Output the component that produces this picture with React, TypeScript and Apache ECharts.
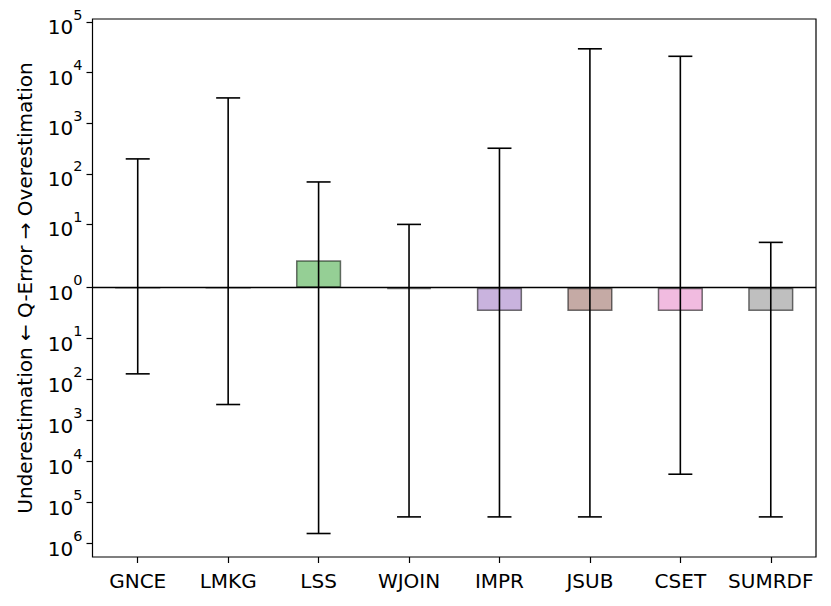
import React, { useEffect, useRef } from "react";
import * as echarts from "echarts";

// ---- data (q-error values) ----
const categories = ["GNCE", "LMKG", "LSS", "WJOIN", "IMPR", "JSUB", "CSET", "SUMRDF"];
// largest overestimation q-error (upper whisker)
const overestimationMax = [197, 3160, 69, 10, 320, 29500, 21000, 5.2];
// largest underestimation q-error (lower whisker)
const underestimationMax = [72, 403, 564000, 222000, 222000, 222000, 20200, 222000];
// median q-error, signed: + overestimation, - underestimation
const medianQError = [1, 1, 2.72, -1.07, -2.85, -2.85, -2.85, -2.85];
// tick exponents
const upperTickExponents = [0, 1, 2, 3, 4, 5];
const lowerTickExponents = [1, 2, 3, 4, 5, 6];
const barColors = [
  "rgba(31,119,180,0.5)",
  "rgba(255,127,14,0.5)",
  "rgba(44,160,44,0.5)",
  "rgba(214,39,40,0.5)",
  "rgba(148,103,189,0.5)",
  "rgba(140,86,75,0.5)",
  "rgba(227,119,194,0.5)",
  "rgba(127,127,127,0.5)",
];

// ---- axis transform (two-sided log scale around q = 1) ----
const UP_FIRST = 63.3;
const UP_DEC = 50.6;
const LO_FIRST = 51;
const LO_DEC = 41;
function posFromExp(d: number, under: boolean): number {
  if (under) {
    const t = d <= 1 ? d * LO_FIRST : LO_FIRST + (d - 1) * LO_DEC;
    return -t;
  }
  return d <= 1 ? d * UP_FIRST : UP_FIRST + (d - 1) * UP_DEC;
}
function pos(q: number, under: boolean): number {
  return posFromExp(Math.log10(q), under);
}

export default function App() {
  const ref = useRef<HTMLDivElement>(null);
  useEffect(() => {
    if (!ref.current) return;
    const chart = echarts.init(ref.current, undefined, { renderer: "svg" });

    const tickValues: number[] = [];
    const labelMap: Record<string, string> = {};
    upperTickExponents.forEach((e) => {
      const v = posFromExp(e, false);
      tickValues.push(v);
      labelMap[v.toFixed(2)] = "{b|10}{s|" + e + "}";
    });
    lowerTickExponents.forEach((e) => {
      const v = posFromExp(e, true);
      tickValues.push(v);
      labelMap[v.toFixed(2)] = "{b|10}{s|" + e + "}";
    });

    const barData = medianQError.map((m, i) => ({
      value: m >= 0 ? pos(m, false) : pos(-m, true),
      itemStyle: { color: barColors[i] },
    }));
    const errData = categories.map((_, i) => [
      i,
      pos(overestimationMax[i], false),
      pos(underestimationMax[i], true),
    ]);

    const font = "DejaVu Sans";
    chart.setOption({
      animation: false,
      grid: {
        left: 92.5,
        top: 19,
        width: 723.5,
        height: 538,
        show: true,
        borderColor: "#000",
        borderWidth: 1.2,
        backgroundColor: "transparent",
      },
      xAxis: {
        type: "category",
        data: categories,
        axisLine: { show: false, onZero: false },
        axisTick: {
          show: true,
          alignWithLabel: true,
          length: 6,
          lineStyle: { color: "#000", width: 1.2 },
        },
        axisLabel: {
          color: "#000",
          fontFamily: font,
          fontSize: 20,
          margin: 14,
          interval: 0,
        },
        splitLine: { show: false },
      },
      yAxis: {
        type: "value",
        min: -269.3,
        max: 268.7,
        axisLine: { show: false },
        splitLine: { show: false },
        axisTick: {
          show: true,
          length: 6,
          customValues: tickValues,
          lineStyle: { color: "#000", width: 1.2 },
        },
        axisLabel: {
          color: "#000",
          fontFamily: font,
          margin: 10,
          customValues: tickValues,
          formatter: (v: number) => labelMap[v.toFixed(2)] ?? "",
          rich: {
            b: {
              fontFamily: font,
              fontSize: 20,
              color: "#000",
              lineHeight: 30,
              verticalAlign: "bottom",
            },
            s: {
              fontFamily: font,
              fontSize: 14.5,
              color: "#000",
              lineHeight: 16,
              verticalAlign: "top",
            },
          },
        },
        name: "Underestimation \u2190 Q-Error \u2192 Overestimation",
        nameLocation: "middle",
        nameGap: 58,
        nameRotate: 90,
        nameTextStyle: { color: "#000", fontFamily: font, fontSize: 20 },
      },
      series: [
        {
          type: "bar",
          data: barData,
          barWidth: "50%",
          itemStyle: { borderColor: "rgba(0,0,0,0.55)", borderWidth: 1.5 },
          z: 2,
          markLine: {
            silent: true,
            symbol: ["none", "none"],
            label: { show: false },
            lineStyle: { color: "#000", width: 1.3, type: "solid" },
            data: [{ yAxis: 0 }],
          },
        },
        {
          type: "custom",
          z: 4,
          data: errData,
          renderItem: (params: any, api: any) => {
            const idx = api.value(0);
            const top = api.coord([idx, api.value(1)]);
            const bot = api.coord([idx, api.value(2)]);
            const half = 12;
            const style = { stroke: "#000", lineWidth: 1.6 };
            return {
              type: "group",
              children: [
                { type: "line", shape: { x1: top[0], y1: top[1], x2: bot[0], y2: bot[1] }, style },
                { type: "line", shape: { x1: top[0] - half, y1: top[1], x2: top[0] + half, y2: top[1] }, style },
                { type: "line", shape: { x1: bot[0] - half, y1: bot[1], x2: bot[0] + half, y2: bot[1] }, style },
              ],
            };
          },
        },
      ],
    });
    return () => chart.dispose();
  }, []);
  return (
    <div
      ref={ref}
      style={{ position: "fixed", left: 0, top: 0, width: 831, height: 606, background: "#fff" }}
    />
  );
}
